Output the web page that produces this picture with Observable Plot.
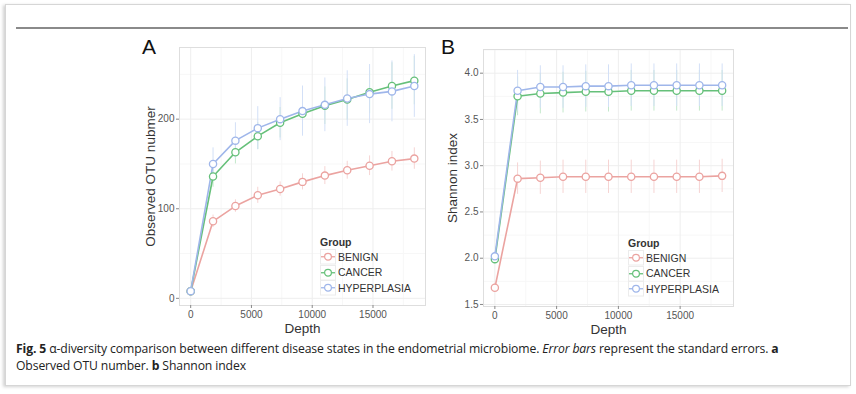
<!DOCTYPE html>
<html>
<head>
<meta charset="utf-8">
<script src="https://cdn.jsdelivr.net/npm/d3@7"></script>
<script src="https://cdn.jsdelivr.net/npm/@observablehq/plot@0.6"></script>
<style>
  html, body { margin: 0; padding: 0; background: #fff; width: 856px; height: 394px; overflow: hidden; }
  #card { position: absolute; left: 5px; top: 4px; width: 844px; height: 380px; border: 1px solid #d6d6d6; box-shadow: -2px 1px 3px rgba(0,0,0,0.18); background: #fff; }
  #rule { position: absolute; left: 16px; top: 27px; width: 832px; height: 2px; background: #8a8a8a; }
  .panel { position: absolute; }
  .letter { position: absolute; font-family: "Liberation Sans", Arial, sans-serif; font-size: 21px; color: #111; }
  .legend { position: absolute; font-family: "Liberation Sans", Arial, sans-serif; color: #333; }
  .legend .title { font-weight: bold; font-size: 10.5px; margin-bottom: 1px; }
  .legend .row { display: flex; align-items: center; height: 15.5px; font-size: 10.5px; }
  .legend svg { display: block; margin-right: 2px; }
  #caption { position: absolute; left: 16px; top: 340px; width: 830px; font-family: "Open Sans", "Noto Sans", sans-serif; font-size: 12.2px; line-height: 17px; color: #222; letter-spacing: -0.12px; }
</style>
</head>
<body>
<div id="card"></div>
<div id="rule"></div>
<div class="letter" style="left:142px;top:35px">A</div>
<div class="letter" style="left:441px;top:35px">B</div>
<div id="panelA" class="panel" style="left:130px;top:40px"></div>
<div id="panelB" class="panel" style="left:430px;top:40px"></div>
<div id="legendA" class="legend" style="left:320px;top:236px"></div>
<div id="legendB" class="legend" style="left:628px;top:237px"></div>
<div id="caption"><b>Fig. 5</b> α-diversity comparison between different disease states in the endometrial microbiome. <i>Error bars</i> represent the standard errors. <b>a</b><br>Observed OTU number. <b>b</b> Shannon index</div>
<script>
// ---- data ----
const groups = ["BENIGN", "CANCER", "HYPERPLASIA"];
const lineColors = ["#eba3a0", "#66c07a", "#9fb6ea"];
const barColors = ["#f6d4d3", "#c3e8cb", "#d3e0f7"];
const depth = [0, 1840, 3680, 5520, 7360, 9200, 11040, 12880, 14720, 16560, 18400];

const benignOTU = [8, 86, 103, 115, 122, 130, 137, 143, 148, 153, 156];
const cancerOTU = [8, 136, 163, 181, 196, 206, 215, 222, 230, 237, 243];
const hyperOTU  = [8, 150, 176, 190, 200, 209, 216, 223, 228, 231, 237];
const benignOTUse = [2, 7, 7, 9, 8, 9, 10, 10, 11, 11, 12];
const cancerOTUse = [2, 12, 13, 15, 17, 19, 21, 23, 24, 26, 27];
const hyperOTUse  = [2, 18, 20, 24, 24, 28, 30, 31, 33, 34, 35];

const benignSh = [1.68, 2.86, 2.87, 2.88, 2.88, 2.88, 2.88, 2.88, 2.88, 2.88, 2.89];
const cancerSh = [1.99, 3.75, 3.78, 3.79, 3.80, 3.80, 3.81, 3.81, 3.81, 3.81, 3.81];
const hyperSh  = [2.02, 3.81, 3.85, 3.85, 3.86, 3.86, 3.87, 3.87, 3.87, 3.87, 3.87];
const benignShse = [0.05, 0.17, 0.18, 0.18, 0.18, 0.18, 0.18, 0.18, 0.18, 0.18, 0.18];
const cancerShse = [0.05, 0.21, 0.22, 0.22, 0.22, 0.22, 0.22, 0.22, 0.22, 0.22, 0.22];
const hyperShse  = [0.05, 0.22, 0.23, 0.23, 0.23, 0.23, 0.23, 0.23, 0.23, 0.23, 0.23];

const xTicks = [0, 5000, 10000, 15000];
const xMinor = [2500, 7500, 12500, 17500];
const yTicksA = [0, 100, 200];
const yMinorA = [50, 150, 250];
const yTicksB = [1.5, 2.0, 2.5, 3.0, 3.5, 4.0];
const yMinorB = [1.75, 2.25, 2.75, 3.25, 3.75, 4.25];

function rows(seriesList, seList) {
  const out = [];
  groups.forEach((g, gi) => {
    depth.forEach((d, i) => out.push({group: g, depth: d, value: seriesList[gi][i], se: seList[gi][i]}));
  });
  return out;
}

const dataA = rows([benignOTU, cancerOTU, hyperOTU], [benignOTUse, cancerOTUse, hyperOTUse]);
const dataB = rows([benignSh, cancerSh, hyperSh], [benignShse, cancerShse, hyperShse]);

function panel(data, opts) {
  const marks = [
    Plot.ruleX(xMinor, {stroke: "#f7f7f7", strokeWidth: 1}),
    Plot.ruleY(opts.yMinor.filter(v => v > opts.yDomain[0] && v < opts.yDomain[1]), {stroke: "#f7f7f7", strokeWidth: 1}),
    Plot.ruleX(xTicks, {stroke: "#eeeeee", strokeWidth: 1}),
    Plot.ruleY(opts.yTicks, {stroke: "#eeeeee", strokeWidth: 1}),
    Plot.frame({stroke: "#dedede"}),
    Plot.ruleX(data, {x: "depth", y1: d => d.value - d.se, y2: d => d.value + d.se, stroke: "group", strokeWidth: 1}),
    Plot.line(data, {x: "depth", y: "value", z: "group", stroke: d => d.group + "_l", strokeWidth: 1.6}),
    Plot.dot(data, {x: "depth", y: "value", r: 3.6, fill: "white", stroke: d => d.group + "_l", strokeWidth: 1.3}),
    Plot.axisX({ticks: xTicks, tickSize: 3, tickPadding: 2, stroke: "#888", fill: "#555", fontSize: 10, tickFormat: d => String(d), label: "Depth", labelAnchor: "center", labelArrow: "none", labelOffset: 27}),
    Plot.axisY({ticks: opts.yTicks, tickSize: 3, tickPadding: 2, stroke: "#888", fill: "#555", fontSize: 10, tickFormat: opts.tickFormat, label: opts.yLabel, labelAnchor: "center", labelArrow: "none", labelOffset: opts.labelOffset})
  ];
  return Plot.plot({
    width: opts.width, height: 300,
    marginLeft: opts.marginLeft, marginRight: opts.marginRight, marginTop: opts.marginTop, marginBottom: opts.marginBottom,
    style: {fontFamily: "Liberation Sans, Arial, sans-serif", background: "transparent"},
    x: {domain: [-920, 19320]},
    y: {domain: opts.yDomain},
    color: {
      domain: [...groups, ...groups.map(g => g + "_l")],
      range: [...barColors, ...lineColors]
    },
    marks
  });
}

const pA = panel(dataA, {width: 300, marginLeft: 49, marginRight: 5, marginTop: 7, marginBottom: 35,
  yDomain: [-8, 280], yTicks: yTicksA, yMinor: yMinorA, yLabel: "Observed OTU nubmer", labelOffset: 34, tickFormat: d => String(d)});
const pB = panel(dataB, {width: 306, marginLeft: 53, marginRight: 3, marginTop: 9, marginBottom: 34,
  yDomain: [1.478, 4.256], yTicks: yTicksB, yMinor: yMinorB, yLabel: "Shannon index", labelOffset: 36, tickFormat: d3.format(".1f")});
document.getElementById("panelA").appendChild(pA);
document.getElementById("panelB").appendChild(pB);

// style axis label text sizes
for (const svg of [pA, pB]) {
  svg.querySelectorAll("g[aria-label='x-axis label'] text, g[aria-label='y-axis label'] text").forEach(t => {
    t.setAttribute("font-size", "13.5");
    t.setAttribute("fill", "#333");
  });
}

function legend(el) {
  const root = document.getElementById(el);
  const t = document.createElement("div");
  t.className = "title";
  t.textContent = "Group";
  root.appendChild(t);
  groups.forEach((g, i) => {
    const row = document.createElement("div");
    row.className = "row";
    row.innerHTML = `<svg width="16" height="15.5"><rect x="0.5" y="0.5" width="15" height="14.5" fill="#fff" stroke="#ececec"/><line x1="1" x2="15" y1="7.75" y2="7.75" stroke="${lineColors[i]}" stroke-width="1.3"/><circle cx="8" cy="7.75" r="3.4" fill="#fff" stroke="${lineColors[i]}" stroke-width="1.2"/></svg><span>${g}</span>`;
    root.appendChild(row);
  });
}
legend("legendA");
legend("legendB");
</script>
</body>
</html>
